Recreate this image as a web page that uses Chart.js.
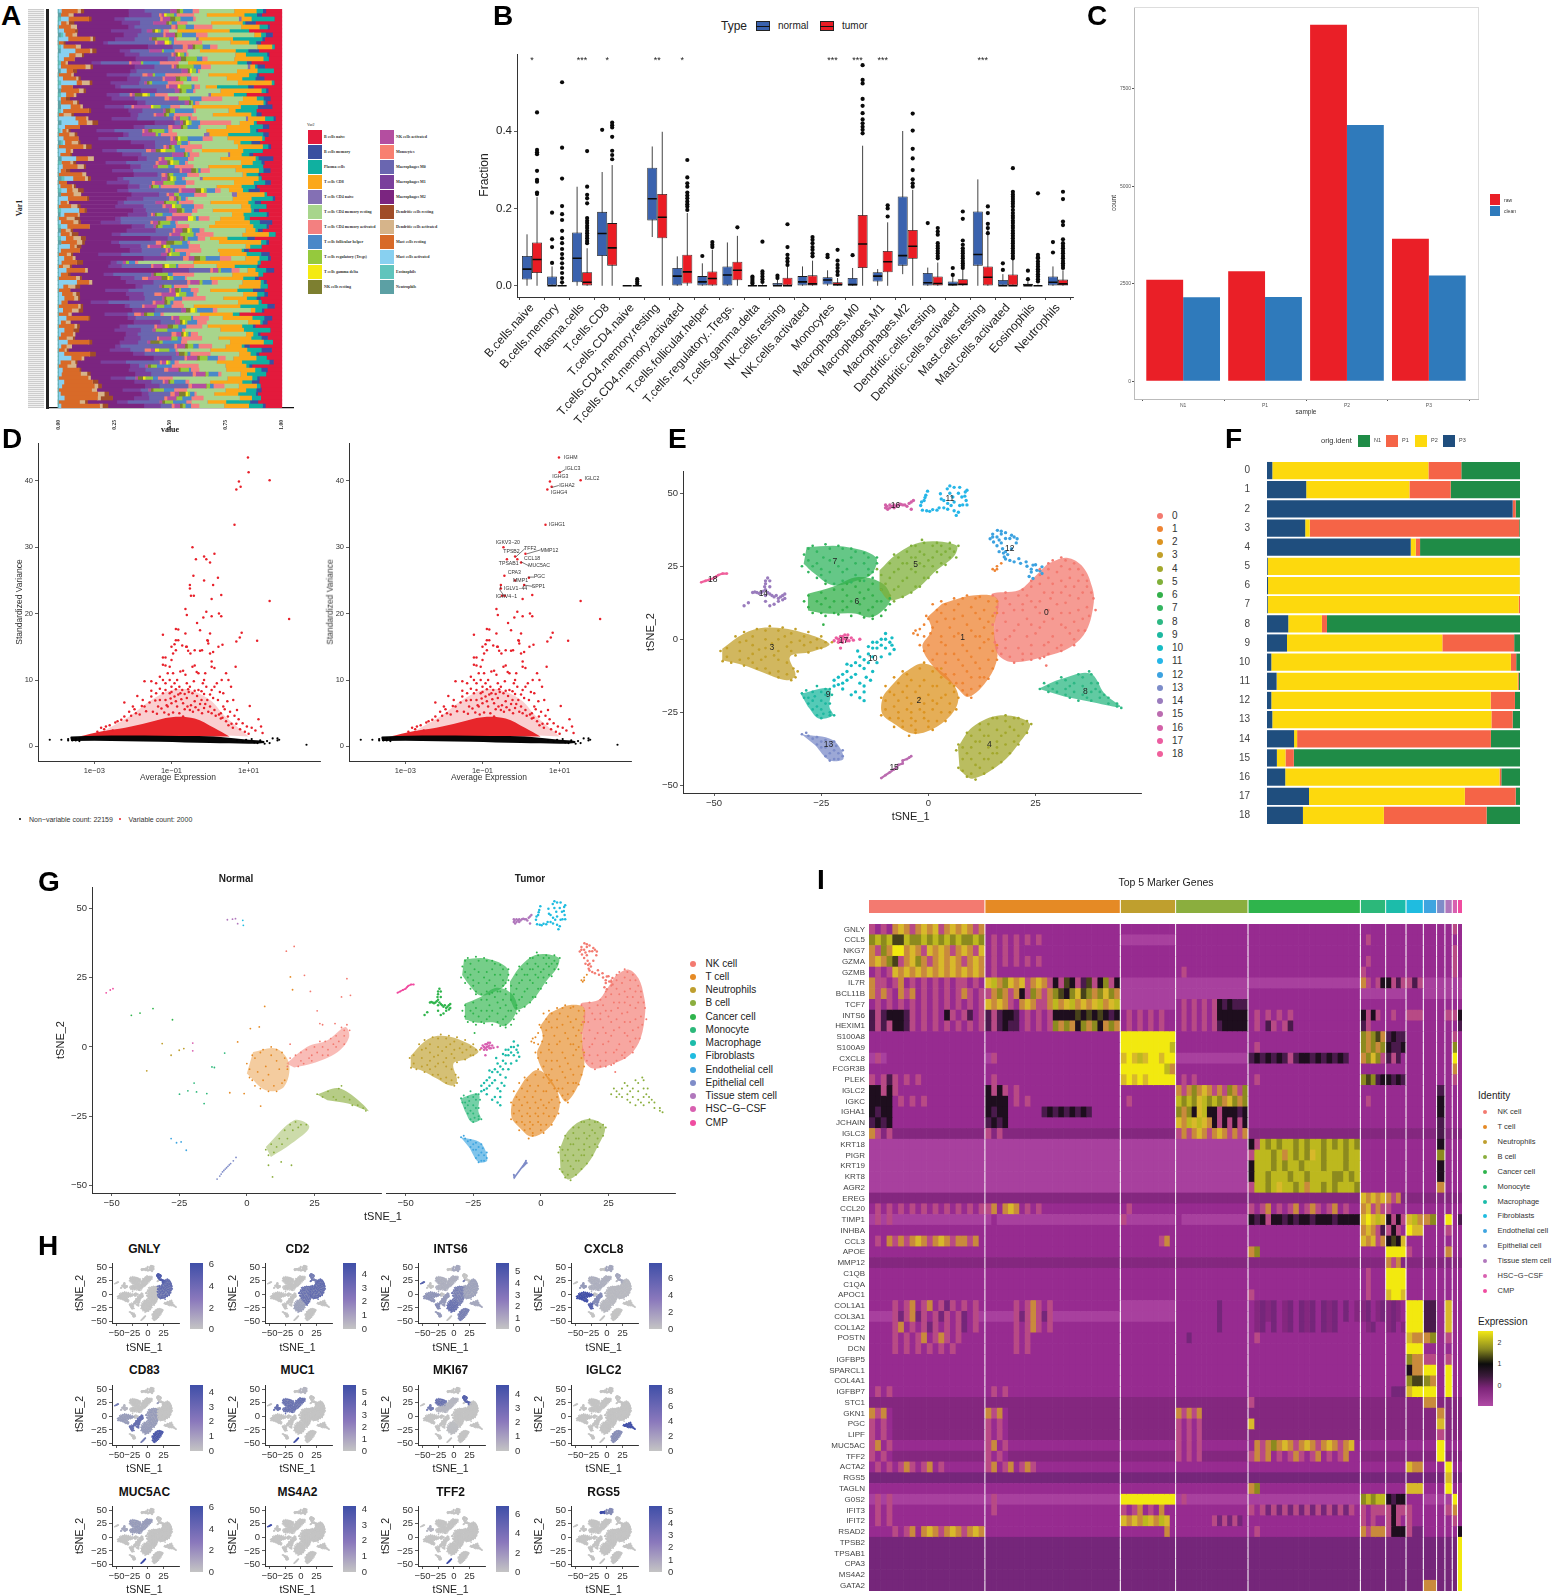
<!DOCTYPE html>
<html>
<head>
<meta charset="utf-8">
<title>Multi-panel figure</title>
<script src="https://cdn.jsdelivr.net/npm/chart.js@4"></script>
<style>
html,body{margin:0;padding:0;background:#fff}
#page{position:relative;width:1552px;height:1595px;overflow:hidden;background:#fff}
#page canvas{position:absolute}
.t{position:absolute;white-space:nowrap;line-height:1}
</style>
</head>
<body>
<div id="page"></div>
<script>
// ---------- Panel A: stacked fractions per sample (percent, read row by row) ----------
const aNames = ['B cells naive','B cells memory','Plasma cells','T cells CD8','T cells CD4 naive','T cells CD4 memory resting','T cells CD4 memory activated','T cells follicular helper','T cells regulatory (Tregs)','T cells gamma delta','NK cells resting','NK cells activated','Monocytes','Macrophages M0','Macrophages M1','Macrophages M2','Dendritic cells resting','Dendritic cells activated','Mast cells resting','Mast cells activated','Eosinophils','Neutrophils'];
const aColors = ['#e31a3c','#3a4fa0','#10b0a0','#fba81a','#8470b4','#a8d58c','#f38080','#4a88c8','#95c93d','#f4ea12','#7d7f30','#b44ea0','#f88070','#6a66b0','#7a409c','#7b2580','#a04c28','#d6b48a','#d86a28','#88d0f0','#60c4bc','#5ca0a4'];
const aBNaive = [5,8,3,10,6,12,4,7,9,3,11,6,5,13,7,4,9,8,3,10,6,14,5,7,4,11,8,3,9,6,12,5,7,10,4,8,15,3,6,9,5,11,7,4,13,8,6,3,10,5,9,7,12,4,6,8,3,11,5,9,14,6,4,7,10,3,8,12,5,6,9,4,11,7,3,8,13,5,6,10,4,9,7,3,12,5,8,6,4,10,7,5,9,12,6,8,11,7,9,6];
const aBMemory = [1,2,0,4,1,0,3,1,2,0,5,1,0,2,3,0,1,4,0,2,1,0,3,1,6,0,2,1,0,3,1,2,0,4,1,0,2,5,1,0,3,1,0,2,1,4,0,1,3,0,2,1,0,5,1,2,0,3,1,0,2,4,1,0,1,3,0,2,1,0,6,1,2,0,3,1,0,4,2,1,0,1,3,0,2,5,1,0,2,1,3,0,1,4,0,2,1,0,3,1];
const aPlasma = [2,5,9,1,4,7,2,12,3,1,6,10,2,4,1,8,3,6,1,11,2,5,3,1,7,9,2,4,1,6,3,13,1,5,2,8,4,1,3,10,2,6,1,4,7,2,1,9,3,5,1,12,2,4,6,1,3,8,2,5,1,7,3,1,10,4,2,6,1,3,8,2,5,1,11,3,2,6,1,4,9,2,5,3,1,7,2,4,13,1,3,6,2,5,1,4,8,3,9,5];
const aCd8 = [7,15,4,12,9,19,3,14,8,6,17,5,11,21,2,10,16,7,13,4,18,9,6,12,20,3,15,8,5,11,22,7,14,3,9,17,6,12,4,16,10,2,19,7,13,5,11,8,18,3,15,6,9,14,20,4,12,7,16,2,10,13,5,21,8,3,11,17,6,9,14,4,12,7,19,2,10,15,5,13,8,3,16,11,6,18,4,9,12,7,14,2,10,17,5,8,11,4,7,9];
const aCd4Naive = [0,0,1,0,0,0,0,1,0,0,0,0,0,0,1,0,0,0,0,0,0,1,0,0,0,0,0,1,0,0,0,2,0,0,0,0,1,0,0,0,0,0,1,0,0,0,2,0,0,0];
const aCd4Rest = [11,5,17,9,14,3,20,8,12,16,6,22,10,4,15,18,7,13,21,2,11,16,9,19,5,14,8,23,3,12,17,10,6,20,13,4,15,9,18,7,11,22,5,14,16,3,10,19,8,12,6,21,4,15,9,17,13,2,11,20,7,14,5,18,10,3,16,12,8,21,6,13,9,19,4,15,11,7,17,2,12,20,8,14,5,16,10,3,18,9,13,6,22,11,4,15,8,12,6,9];
const aCd4Act = [2,7,1,4,9,2,5,1,12,3,6,1,2,8,4,1,10,3,6,2,1,5,9,2,4,1,7,3,11,1,2,6,4,1,8,3,5,2,1,9,4,6,1,3,13,2,5,1,7,3,2,10,4,1,6,2,8,3,1,5,11,2,4,1,7,3,9,1,2,6,4,1,12,3,5,2,1,8,4,6,1,3,10,2,5,1,7,3,2,9,4,1,6,2,3,5,1,4,2,3];
const aTfh = [3,1,5,2,4,1,6,2,1,3,5,1,2,7,3,1,4,2,6,1,3,2,5,1,4,8,2,1,3,5,2,1,6,3,2,4,1,5,2,3,1,7,2,4,1,3,6,2,1,4,3,5,1,2,6,3,1,4,2,8,1,3,5,2,1,4,2,6,3,1,5,2,4,1,3,7,2,1,4,3,5,1,2,6,2,3,1,4,2,5,1,3,2,6,1,4,2,3,5,2];
const aTreg = [1,3,2,1,4,1,2,5,1,3,1,2,4,1,6,2,1,3,1,4,2,1,5,1,3,2,1,4,1,2,6,1,3,2,1,4,1,3,2,5,1,2,1,4,3,1,2,1,5,2,1,3,1,4,2,1,6,1,3,2,1,4,2,1,3,1,5,2,1,3,1,2,4,1,3,1,2,6,1,2,4,1,3,1,2,5,1,3,1,2,4,1,3,2,1,4,1,2,3,1];
const aGamma = [0,1,0,0,0,1,0,0,2,0,0,1,0,0,0,1,0,0,0,1,0,2,0,0,1,0,0,0,1,0,0,0,1,0,0,2,0,0,1,0,0,0,1,0,0,1,0,0,0,1,0,0,2,0,0,1,0,0,0,1,0,1,0,0,2,0,0,1,0,0,0,1,0,0,0,2,0,0,1,0,0,1,0,0,0,2,0,0,1,0,0,0,1,0,0,0,1,0,0,0];
const aNkRest = [1,0,2,1,0,1,1,2,0,1,0,1,2,0,1,1,0,2,1,0,1,3,0,1,0,2,1,0,1,1,2,0,1,0,1,2,1,0,1,0,2,1,1,0,1,2,0,1,1,0,2,1,0,1,1,2,0,1,3,1,0,1,2,0,1,0,1,3,0,1,2,0,1,1,0,2,1,0,1,2,0,1,0,3,1,0,2,1,0,1,1,0,2,1,0,1,3,0,1,1];
const aNkAct = [2,1,3,5,1,2,4,1,3,2,6,1,2,4,1,3,2,5,1,3,2,1,4,2,7,1,3,2,1,4,2,5,1,3,1,2,6,1,3,2,4,1,2,3,1,5,2,1,4,2,3,1,6,2,1,3,4,1,2,5,1,3,2,1,4,2,1,7,3,1,2,4,1,3,5,2,1,3,2,4,1,2,6,1,3,2,1,4,2,1,5,3,1,2,4,1,2,3,1,2];
const aMono = [0,1,1,0,2,0,1,0,1,2,0,1,0,1,1,0,2,1,0,1,0,1,2,0,1,0,1,1,0,2,1,0,1,0,1,2,0,1,1,0,1,2,0,1,0,1,1,2,0,1,0,1,2,1,0,1,1,0,2,1,1,0,2,0,1,1,0,3,1,0,1,2,0,1,1,0,2,1,0,1,0,2,1,0,1,3,0,1,1,0,2,1,0,1,1,0,2,1,0,1];
const aM0 = [8,3,14,5,18,2,11,6,20,4,9,15,3,12,7,22,5,10,2,16,8,4,13,19,3,9,6,17,2,11,14,5,21,7,3,12,16,4,10,6,20,2,13,8,5,18,3,11,15,6,9,2,17,12,4,7,22,5,14,3,10,19,6,2,13,8,16,4,11,7,21,3,9,15,5,12,2,18,6,10,4,14,8,3,20,7,11,5,16,2,9,13,4,6,8,3,10,5,12,4];
const aM1 = [5,9,4,7,3,11,6,8,2,10,5,7,12,4,8,3,9,6,11,2,7,5,10,4,8,6,3,12,7,5,9,2,8,11,4,6,10,3,7,5,9,12,2,8,6,4,11,7,3,9,5,10,2,8,6,12,4,7,3,9,5,11,8,2,6,10,4,7,9,3,12,5,8,6,2,10,7,4,11,3,9,5,8,6,2,10,4,7,12,3,8,5,6,9,4,7,3,5,4,6];
const aM2 = [14,22,9,18,25,12,20,8,16,27,11,19,23,10,17,26,13,21,7,15,24,12,18,28,9,16,22,11,20,25,13,17,8,23,19,12,26,15,10,21,18,24,9,14,27,12,20,16,23,11,18,25,13,8,19,22,15,26,10,17,21,12,24,9,16,28,14,20,11,23,18,13,25,8,17,22,10,19,26,15,12,21,24,9,16,20,13,27,11,18,23,14,8,19,12,10,15,7,11,13];
const aDcRest = [1,0,1,2,0,1,0,1,1,0,2,1,0,0,1,2,0,1,1,0,1,0,2,1,0,1,1,0,2,0,1,1,0,1,2,0,1,0,1,1,2,0,1,0,1,2,0,1,0,1,1,0,2,1,0,1,3,2,1,2,0,1,0,2,1,0,1,1,0,2,0,1,1,0,1,2,0,1,0,1,2,0,1,1,0,1,2,0,1,0,1,1,0,3,1,0,2,4,1,2];
const aDcAct = [1,2,0,1,3,0,2,1,0,2,1,3,0,1,2,0,1,1,3,0,2,1,0,2,1,0,3,1,2,0,1,2,0,3,1,1,0,2,1,3,0,2,1,0,1,2,3,0,1,2,0,1,3,2,0,2,1,3,2,1,0,2,1,0,3,1,0,2,1,3,0,1,2,0,1,3,1,0,2,1,0,1,3,0,2,1,0,1,2,3,0,2,1,0,1,2,3,1,2,1];
const aMastRest = [5,3,8,2,6,4,3,9,2,5,7,3,4,2,10,3,5,6,2,4,8,3,2,6,4,11,2,5,3,7,2,4,6,3,9,2,5,4,3,7,2,12,4,3,6,2,5,8,3,4,2,7,3,5,10,2,4,3,6,2,8,4,3,5,2,7,3,9,4,2,6,3,5,2,8,4,3,11,2,6,3,5,4,7,2,3,9,4,5,3,8,6,12,15,9,13,17,11,8,14];
const aMastAct = [1,0,3,1,0,2,1,4,0,1,7,5,2,0,1,3,0,2,6,1,0,2,1,0,4,1,0,8,6,3,1,0,2,1,0,3,1,5,0,2,1,0,3,0,1,2,0,4,1,0,7,2,0,1,3,0,1,2,0,5,1,0,2,1,0,3,1,0,6,2,0,1,3,1,0,2,0,4,1,0,2,1,0,3,1,0,2,5,1,0,2,1,0,3,1,0,1,2,0,1];
const aEos = [0,0,1,0,0,0,1,0,0,1,0,0,0,1,0,0,0,0,1,0,0,1,0,0,0,1,0,0,0,0,1,0,0,1,0,0,0,0,1,0,0,0,1,0,0,1,0,0,0,0,1,0,0,0,1,0,0,1,0,0];
const aNeut = [0,1,0,0,0,0,1,0,0,0,1,0,0,0,0,1,0,0,0,0,1,0,0,1,1,0,0,0,1,0,0,0,0,1,0,0,0,1,0,0,0,0,1,0,0,0,1,0,0,0,0,1,0,0,0,1,0,0,1,0];
const aSeries = [aBNaive,aBMemory,aPlasma,aCd8,aCd4Naive,aCd4Rest,aCd4Act,aTfh,aTreg,aGamma,aNkRest,aNkAct,aMono,aM0,aM1,aM2,aDcRest,aDcAct,aMastRest,aMastAct,aEos,aNeut];
const aRows = 100;
const aTicks = ['0.00','0.25','0.50','0.75','1.00'];

// ---------- Panel B: box statistics [low, q1, median, q3, high] ----------
const bCategories = ['B.cells.naive','B.cells.memory','Plasma.cells','T.cells.CD8','T.cells.CD4.naive','T.cells.CD4.memory.resting','T.cells.CD4.memory.activated','T.cells.follicular.helper','T.cells.regulatory..Tregs.','T.cells.gamma.delta','NK.cells.resting','NK.cells.activated','Monocytes','Macrophages.M0','Macrophages.M1','Macrophages.M2','Dendritic.cells.resting','Dendritic.cells.activated','Mast.cells.resting','Mast.cells.activated','Eosinophils','Neutrophils'];
const bNormal = [[0,.016,.043,.077,.133],[0,0,0,.024,.05],[0,.009,.071,.138,.256],[0,.077,.135,.191,.294],[0,0,0,.001,.002],[.126,.169,.225,.305,.36],[0,.001,.025,.046,.076],[0,0,.01,.025,.058],[0,0,.028,.05,.112],[0,0,0,.001,.002],[0,0,0,.007,.015],[0,0,.01,.025,.05],[0,.003,.015,.022,.04],[0,0,.003,.02,.046],[0,.011,.025,.035,.043],[.03,.052,.078,.231,.4],[0,0,.008,.033,.047],[0,0,.003,.011,.025],[0,.052,.081,.192,.275],[0,0,0,.015,.03],[0,0,0,.005,.012],[0,0,.009,.024,.05]];
const bTumor = [[0,.033,.068,.112,.229],[0,0,0,.002,.004],[0,0,.009,.035,.097],[0,.052,.098,.162,.312],[0,0,0,.001,.002],[0,.123,.177,.237,.398],[0,.006,.036,.08,.188],[0,0,.019,.037,.093],[0,.014,.04,.062,.129],[0,0,0,.002,.004],[0,0,0,.021,.05],[0,0,.005,.027,.065],[0,0,.003,.009,.02],[0,.046,.108,.183,.362],[0,.035,.062,.09,.164],[0,.07,.102,.144,.248],[0,0,.006,.024,.06],[0,0,.004,.017,.044],[0,0,.022,.05,.145],[0,0,0,.029,.07],[0,0,0,.001,.003],[0,0,.005,.016,.04]];
const bOutNormal = [[],[.189,.12,.1,.059],[],[.403],[],[],[],[.077],[],[.024,.02,.015,.01,.006],[.026,.02],[],[.08,.074],[.079],[],[],[.162],[.046,.028],[],[.058,.041],[.039,.017],[.113,.086]];
const bOutTumor = [[.448,.351,.345,.34,.297,.274,.269,.241,.237],[.526,.357,.277,.206,.185,.17,.142,.123,.11,.095,.082,.071,.058,.046,.033,.02,.009],[.348,.256,.235,.226,.213,.175,.168,.162,.155,.149,.142,.136,.129,.123,.116,.11],[.422,.415,.409,.385,.349,.338,.327],[.017,.011,.005],[],[.325,.28,.265,.256,.241,.233,.226,.218,.211,.205,.196],[.113,.106,.1],[.151],[.114,.037,.031,.024,.017,.01],[.159,.1,.08,.071,.063,.054],[.126,.119,.11,.1,.093,.084,.076],[.093,.065,.054,.046,.037,.028],[.57,.532,.523,.483,.465,.446,.43,.42,.411,.403,.394],[.208,.2,.179],[.445,.401,.354,.329,.299,.275,.265,.256],[.149,.14,.132,.11,.103,.097,.09,.084,.077,.071],[.192,.173,.117,.106,.097,.09,.084,.077,.071,.064,.058,.052,.046],[.205,.188,.16,.149,.136],[.304,.243,.236,.23,.224,.218,.212,.205,.196,.188,.181,.175,.168,.162,.155,.149,.142,.136,.129,.123,.116,.11,.103,.097,.09,.084,.077,.071],[.239,.08,.074,.071,.063,.056,.05,.043,.037,.03,.024,.017,.011],[.243,.224,.166,.157,.12,.11,.103,.097,.09,.084,.077,.071,.064,.058,.052,.046]];
const bStars = ['*','','***','*','','**','*','','','','','','***','***','***','','','','***','','',''];

// ---------- Panel C ----------
const cSamples = ['N1','P1','P2','P3'];
const cTicks = [0,2500,5000,7500];
const cRaw = [2600,2820,9140,3650];
const cClean = [2155,2160,6570,2710];

// ---------- Panel D: variable genes [mean expression, standardized variance, ...] ----------
const dRedPts = [9.6,43.5,10,41.3,35,40.1,5.6,39.9,6.2,39.1,4.8,38.7,4.3,33.4,.35,30,1.3,29,.7,28.6,.43,28.2,.8,28.2,1,27.7,.37,25.7,1.6,25.4,.7,25,.3,24.3,1.2,24.3,.3,23.8,.32,22.7,.38,22.7,1.95,22.8,1.1,22.2,35,21.9,112,19.2,.8,20.3,1.7,20,1.95,19.6,.23,20.7,.25,19.8,.67,19.4,1.1,19.6,.46,18.6,6.6,17.1,5.9,16.4,4.8,15.8,16.6,15.9,.06,16.8,.13,17.7,.15,17.6,.23,17,.55,17.5,1,17,.88,15.9,.25,15,2.1,15.3,1.65,15,4.6,12,
.06,13.4,.07,13.4,.1,13,.11,14,.13,14.5,.1,15,.13,16,.15,16,.12,15.4,.19,15.2,.24,15,.27,14.4,.31,14,.4,14.5,.55,14.4,.62,14.5,.9,15.5,.85,16,1,14,1.2,14.2,1.1,12.8,1.1,12,1.3,11.8,.4,12.2,.35,12,.5,11,.06,12.3,.07,12.2,.09,12,.11,11,.17,11.3,.2,11.4,.23,10.8,.45,11.2,.7,10,.75,11,2,10,2.6,11,3,10,
.02,9.8,.03,9.8,.04,9.5,.05,10.5,.06,10,.07,9.5,.08,11,.09,10,.1,9,.12,9.5,.14,10,.16,9,.19,8.5,.25,9.5,.3,9,.38,9.8,.5,8.5,.65,9.5,.8,9,1.1,8.5,1.5,9.5,2.2,8,3.5,9,
.006,6.6,.01,6,.013,7.6,.018,7,.02,6,.03,7.5,.04,8,.045,6,.05,7,.06,8,.07,7,.08,6,.09,8,.1,6.5,.12,7.5,.14,6,.17,8,.2,6.5,.25,7.3,.3,5.5,.35,8,.4,6.8,.5,5.5,.6,7,.7,5.8,.85,7,1,6,1.3,5.5,1.6,7,1.9,5,2.4,5.6,3.3,5.2,5,5.5,10.7,6.1,
.0025,3.2,.004,3.8,.006,4.5,.009,4.6,.012,5,.2,4.5,1.9,4.2,2.6,3.8,3.6,3.4,4.8,3.4,5.5,4.1,7,3.5,12,2.8,18,4.1,21,3,23,2,10,1.9,.0012,2.2,.0018,2.6,.003,2.4,
.0015,2.8,.002,3,.0035,3.6,.005,4,.007,3.9,.008,5.2,.011,5.6,.015,4.8,.017,6.1,.022,5.3,.027,6.6,.033,5.2,.038,6.9,.042,4.9,.055,5.7,.065,5.1,.075,6.2,.085,4.8,.095,7.2,.11,5.1,.13,6.8,.16,5,.18,7.1,.22,5.6,.26,6,.28,8.2,.32,6.2,.36,5.2,.42,5.9,.46,7.6,.55,6.4,.62,5,.75,6.4,.9,5.2,1.1,5,1.2,7.3,1.4,4.6,1.7,4.8,2.1,4.3,2.2,6,2.9,4.5,3,3.2,3.9,2.8,4.3,4.6,6,2.6,8,2.2,9,3,15,2.4,.03,8.4,.05,8.7,.07,8.5,.1,8.2,.13,8.6,.15,7.8,.22,7.9,.27,8.6,.4,8.4,.6,8.3,.7,7.9,1,7.8,1.3,9,1.8,8.2,2.8,6.8,4,7];
const dRedCore = [4e-4,1.5,1.6e-3,2.3,6.3e-3,2.8,.025,3.6,.1,4.4,.4,4.2,1.26,2.8,3.2,1.5];
const dRedHaze = [.002,2.5,.008,4.5,.03,7,.1,8.5,.3,8.5,1,7,2.5,4.5,6.3,2.5,10,1.5];
const dBlackBand = [2.5e-4,.8,2.5e-4,1.5,.5,1.55,3,1.3,10,1,25,.8,25,.5,10,.4,1,.5,.05,.7,.001,.85];
const dBlackPts = [7e-5,1,1.4e-4,1,2.1e-4,1.1,2.1e-4,.9,2.7e-4,1.2,2.7e-4,.9,3.3e-4,1.2,3.3e-4,.9,4.1e-4,1.2,4.1e-4,.8,316,.25,56,1.2,56,.9,62,1,30,.8,35,.5,42,1.2,8.6,1,14,.6,20,.9,26,.4,17,.5,5,.9,7,.7,12,1.1];
const dGenes = ['IGHM','IGLC3','IGHG3','IGLC2','IGHA2','IGHG4','IGHG1','IGKV3−20','TFF2','MMP12','TPSB2','CCL18','TPSAB1','MUC5AC','CPA3','PGC','MMP1','SPP1','IGLV1−44','IGKV4−1'];
const dGeneZx = [1382,1385,1353,1432,1370,1350,1345,1215,1284,1324,1233,1284,1222,1294,1244,1308,1257,1303,1235,1215];
const dGeneZy = [83,118,142,148,167,190,285,338,358,362,366,386,402,409,428,441,452,470,478,501];
const dConnectors = [10.5,41.3,14,41.7,NaN,NaN,6.2,39,9.5,39.3,NaN,NaN,.72,28.5,1.26,29.8,NaN,NaN,1.4,29,3.2,29.6,NaN,NaN,1,27.8,1.6,27.2,NaN,NaN,1.5,25.5,2.2,25.5,NaN,NaN,1.2,24.3,2,24.1,NaN,NaN,.3,24.2,.28,23.6,.37,22.6];

// ---------- Panel E: t-SNE clusters, outline and dots in tSNE units ----------
const c0Poly = [27.8,25.9,32.3,27.9,36.1,24.7,38.2,17.9,38.6,12.8,36.9,3.1,33.2,-2.6,26.9,-6,19.4,-7.8,16.1,-4.9,15.3,3.1,16.1,13.3,14.8,15.6,21.1,16.8,24.4,20.8];
const c1Poly = [3.2,12.2,10.3,15,16.1,13.9,15.3,3.1,16.1,-6,14,-13.5,9.4,-19.7,6.5,-16.3,1.9,-10.6,-1.4,-2.6,.7,3.1,-.2,7.6];
const c2Poly = [-6,-11.7,-1.4,-8.3,3.6,-11.7,6.9,-18.6,6.1,-24.3,1.9,-30,-3.5,-32.3,-8.1,-28.8,-10.8,-25.4,-10.6,-19.7,-8.9,-16.3];
const c3Poly = [-48.1,-3.2,-43.1,1.9,-38.1,4,-31.4,3.1,-23.1,-1.5,-27.3,-4.3,-32.3,-6,-31,-12.3,-33.1,-14,-38.9,-11.2,-43.1,-8.9,-48.1,-7.2];
const c4Poly = [6.9,-36.8,10.3,-30,16.9,-26,23.6,-28.8,21.1,-35.7,16.9,-42.5,10.3,-47.7,7.3,-44.8];
const c5Poly = [-11.4,23.6,-7.3,29.3,-1.4,33.3,6.5,32.2,6.1,28.7,1.9,23.6,-3.1,16.8,-8.9,13.3,-11.4,17];
const c6Poly = [-28.1,15.6,-22.3,18,-16.4,21.3,-10.6,19,-8.9,13.3,-13.1,7.6,-17.3,8.8,-23.9,8.8,-28.1,9.9];
const c7Poly = [-28.4,31.6,-19.8,31.8,-12.3,28.2,-13.1,22.5,-16.4,20.2,-22.3,18.5,-26.6,22.5,-29.1,25.9];
const c8Poly = [25.7,-16.9,31.1,-13.5,37.8,-11.7,41.1,-18.6,44.8,-23.1,37.8,-21.4,31.9,-19.7];
const c9Poly = [-29.8,-18.6,-23.1,-16.9,-23.1,-23.1,-22.3,-26,-25.6,-27.1,-28.1,-23.1];
const c10Poly = [-23,-14,-17,-7,-11.4,.2,-8.1,.2,-8.9,-3.8,-13.9,-11.7,-19,-17,-23,-17];
const c11Poly = [2.3,48.7,5.3,52.1,8.6,52.1,9,47,6.9,42.4,6,44.5,2.5,45.5];
const c13Poly = [-29.6,-32.5,-22.3,-34.5,-19.8,-40.8,-23.1,-41.4,-26.4,-36.3];
const c0Pts = [28,26,32,27,35,24,30,23,26,22,33,21,37,20,29,19,24,18,34,18,38,16,31,16,27,16,21,15,18,14,35,14,24,13,30,12,37,11,16,11,20,10,33,9,26,9,36,7,29,7,23,7,18,6,32,4,35,3,26,4,20,3,16,3,29,1,23,1,34,0,18,0,27,-2,31,-2,21,-3,16,-3,24,-5,19,-6,28,-5,22,-7,27.5,-9,25,11,28.5,14,32,12.5,22,12,17.5,9,
29,27,31,28,34,26,36,22,37,18,38.5,14,37.5,8,36.5,3,34,-2,31,-4,27,-6,24,-7,20,-8,17,-5,15.5,-1,15,5,15.5,9,15,15,18,16,22,17,24,20,26,24,28,24,31,25,33,24,28,21,31,20,35,20,26,19,32,18,36,16,29,16,23,15,26,13,33,15,19,12,22,10,28,10,31,9,35,10,24,5,27,6,34,6,21,5,19,1,25,2,31,5,33,2,28,-1,24,-2,18,-3,30,-3,22,-5,26,-6.5,39,10];
const c1Pts = [4,12,8,14,11,14,14,13,2,10,6,10,10,11,13,10,0,7,4,7,8,8,12,7,15,8,1,4,5,4,9,5,13,4,-1,1,3,1,7,2,11,1,14,0,0,-2,4,-2,8,-2,12,-3,15,-4,2,-5,6,-5,10,-6,14,-7,4,-8,8,-9,12,-10,6,-12,10,-13,13,-13,8,-15,10,-17,9,-19,15,24,16,25,17,26,16,24,15.5,23.5,-3,3,-2,3.5,-3.5,2,-2.5,1.5,
3,13,6,14,9,15,12,14.5,16,13,1,12,-.5,8,-1,5,.5,2,-2,-2,-1,-4,1,-7,2,-10,4,-12,6.5,-15,8,-17.5,10,-20,12,-16,14,-13.5,15,-10,16,-7,16,-2,15,2,16,9,3,9,7,12,11,9,14,6,2,6,6,7,10,3,12,1,3,-1,6,1,9,-4,13,-1,4,-5,7,-7,11,-8,9,-11,12,-13];
const c2Pts = [-5,-12,-2,-10,1,-11,3,-13,-7,-15,-4,-14,-1,-14,2,-16,5,-15,-9,-18,-6,-18,-3,-18,0,-19,4,-19,6,-18,-10,-21,-7,-21,-4,-22,-1,-22,2,-22,5,-22,-10,-24,-7,-25,-4,-25,-1,-25,3,-25,5,-25,-9,-27,-6,-28,-3,-28,0,-28,2,-28,-6,-30,-3,-31,0,-30,-3,-32,
-6,-11,-1,-8,3,-10,6,-16,7,-20,6.5,-24,4,-28,1,-31,-4.5,-33,-8,-30,-11,-26,-11,-20,-10,-16,-8,-13,-5,-16,-2,-16,1,-16,-8,-19,-5,-20,-2,-20,1,-21,3,-20,-8,-23,-5,-24,-2,-24,1,-24,-7,-27,-4,-27,-1,-27,-4,-29.5];
const c3Pts = [-47,-3,-47,-6,-44,-1,-44,-4,-44,-7,-41,1,-41,-2,-41,-5,-41,-8,-38,3,-38,0,-38,-3,-38,-6,-38,-10,-35,3,-35,0,-35,-4,-35,-7,-35,-11,-32,2,-32,-1,-32,-4,-33,-8,-33,-12,-31,-13,-29,1,-29,-2,-26,0,-26,-3,-24,-1,-31.5,-10,
-48.5,-4,-48,-7.5,-45,1,-43,2.5,-40,3.5,-37,4.5,-34,4,-31,3.5,-28,2.5,-25,1,-22.5,-1,-25,-3,-28,-4.5,-31,-5.5,-30.5,-11,-32,-14,-35,-13,-37,-11.5,-40,-10,-43,-9,-46,-8,-42.5,-.5,-39.5,-3.5,-39,-7,-36.5,-1.5,-36,-5.5,-33.5,1,-30,-.5,-27.5,-1,-33,-2.5,-42,-6.5];
const c4Pts = [8,-37,8,-41,8,-45,10,-33,10,-37,10,-41,10,-46,12,-31,12,-35,12,-39,12,-44,14,-29,14,-33,14,-37,14,-41,16,-27,16,-31,16,-35,16,-39,18,-28,18,-32,18,-36,20,-27,20,-31,20,-35,22,-29,23,-28,
7,-36,6.5,-38,7,-44,9,-47,11,-48,13,-46,15,-44,17,-42,19,-39,21,-36,23,-32,24,-29,21,-27,18,-26,15,-27,12,-29,9,-32,9,-39,11,-43,13,-41,15,-39,13,-33,17,-33,19,-30,21,-33,11,-35,16,-37];
const c5Pts = [-11,22,-11,17,-9,26,-9,21,-9,15,-7,28,-7,24,-7,18,-5,30,-5,26,-5,21,-3,32,-3,28,-3,23,-3,18,-1,33,-1,29,-1,25,-1,21,1,32,1,28,1,25,3,32,3,29,3,26,5,31,5,28,6,30,
-12,24,-8,29,-4,32,-1.5,34,2,33,5,33,7,32,6.5,28,4,25.5,2,23,0,21,-2,18,-4,16,-6,14.5,-8,13,-10,19,-8,23,-6,20,-4,24,-2,26,0,27,-4,28,2,30,-6,26,-8,17,-2,30,4,30];
const c6Pts = [-28,15,-28,11,-25,16,-25,12,-25,9,-22,17,-22,13,-22,9,-19,19,-19,15,-19,11,-16,20,-16,16,-16,12,-16,9,-13,19,-13,15,-13,11,-13,8,-11,17,-11,13,-9,14,-24,19,-24.5,5,-11,8,-14,22,
-29,13,-27,9,-24,8,-21,8.5,-18,8,-15,7.5,-13,7,-10,10,-9,12,-20,17,-17,18,-14,17,-24,14,-20,13,-18,13,-15,14,-12,13,-20,10,-14,10,-26,13,-23,11];
const c7Pts = [-28,31,-28,27,-28,23,-26,30,-26,26,-25,22,-23,31,-23,27,-23,23,-22,19,-20,31,-20,27,-20,23,-17,30,-17,26,-17,22,-14,28,-14,24,-12,28,-13,23,
-29,29,-29.5,25,-27,32,-24,32.5,-21,32,-18,31,-15,29.5,-12,26,-13,21,-15,20,-18,19.5,-20,20,-24,20,-26,21,-27,25,-24.5,28,-21,25,-18,28,-15,26,-19,24,-25,24];
const c8Pts = [26,-17,28,-16,28,-18,30,-15,30,-18,32,-14,32,-17,32,-19,34,-15,34,-18,36,-13,36,-16,36,-19,38,-12,38,-15,38,-18,38,-21,40,-18,40,-20,42,-20,42,-22,44,-23,27,-15,31,-13,35,-12,37.5,-11,39.5,-15,33,-20,35,-21,37,-20,41,-19,44,-22,45,-23.5,33,-16,29,-17,39,-17];
const c9Pts = [-29.5,-18.5,-29,-20,-28,-22,-27,-18,-27,-21,-27,-24,-26,-26,-25,-18,-25,-21,-25,-24,-25,-27,-24,-19,-24,-22,-23,-25,-23,-26,-22,-26,-24,-17,-28.5,-17.5,-26,-16,-23,-17,-22.5,-19,-23,-22,-26,-23,-28,-20,-24.5,-25.5,-26.5,-19.5];
const c10Pts = [-22,-14,-21,-13,-20,-15,-20,-12,-19,-14,-19,-11,-18,-9,-18,-13,-17,-8,-17,-12,-16,-9,-16,-6,-15,-10,-15,-7,-14,-5,-14,-8,-13,-11,-13,-3,-13,-6,-12,-3,-12,-1,-11,-2,-11,0,-10,-3,-10,0,-9,-1,-8.5,-2,-8.5,.5,-20,-17,-18,-19,-17,-18,-16,-20,-15,-21,-15,-18,-15,-16,-22,-16,-13.5,-14,-14.5,-13,-16,-15,-21,-15.5,-19,-8.5,-16.5,-4,-13,-1,-10,2,-8,-3.5,-9,-5,-12,-8,-11,-6,-14,-2.5];
const c11Pts = [-.2,50.7,-.6,49.3,-1,47.5,-1.8,45.8,-1.4,44.2,1,44.4,3.6,45,5.3,45.8,6,44,2.8,49.8,4.4,51.5,7.3,52,8.6,50.4,8.8,47.5,7.3,45.8,6.5,42.4,3.6,47.5,5.7,48.7,7.8,48.7,3,48,5,50,6,52,7,50,8,46,6,47,7,43.5,2,44.2,.3,43.8,4.5,46.5,8.5,49,-.4,44,-1.6,47,-.8,48.5,2.5,45,4.5,44.5,5,52.5,9,51,9,46];
const c12Pts = [14.4,34.4,16.1,37.3,19.4,35.6,20.7,34.4,15.2,33.3,17.3,31,19.4,31,17.7,28.2,21.1,27.6,22.8,26.5,24.4,25.4,26.5,24.8,25.3,23.6,24.4,20.8,15,35,17,36,18,36.5,20,35,16,32,18,30,18.5,29,19,27,20,26.5,23,25,24,24,25,25.5,18,34.5,16.5,34,15,36,16,35,17,37,19,34.5,20.5,33,17,33,16.5,30,17.5,29.5,18,27.5,21.5,26,24,23,26,23.5,26.5,22.5,23.5,21.5];
const c13Pts = [-29.5,-32.5,-28,-33,-27,-34,-26,-33.5,-25,-35,-25,-37,-24,-34.5,-24,-37,-23,-36,-23,-39,-22,-35,-22,-38,-22,-41,-21,-39,-21,-41,-20,-40,-26,-36,-28.5,-32,-24,-40,-20,-38,-23,-41.5,-21.5,-36.5];
const c14Pts = [-43,11.5,-42,12.5,-41,16,-40,16,-39,16,-38,15,-38,17,-38,19,-37.5,21,-38,13,-37,15.5,-37,18,-36,14.5,-35,14,-34,13.5,-34,15,-33.5,15.5,-36,12,-37,11.5,-40.5,16.2,-39.5,15.7,-38.5,16.5,-37.5,16,-36.5,15,-35.5,15,-34.5,14.5,-38,20,-37,20,-38.2,18,-35,13,-33.5,14];
const c15Pts = [-11,-47.5,-10,-46.5,-9,-45.5,-8,-44.5,-7.5,-44,-7,-43,-6,-42.5,-6,-41.5,-5,-41,-4.5,-40.5,-4,-40];
const c16Pts = [-10,45,-10,46,-9.5,44.5,-9,46,-9,45,-8,46,-8,45,-7,46,-6,46,-5,45.5,-4.5,46.5,-4,44.5,-4,47,-9.7,45.5,-8.5,45.5,-7.5,45.5,-6.5,46.2,-5.5,46,-3.5,47.5];
const c17Pts = [-22,-.5,-21.5,.5,-21,-1,-20.5,1,-20,0,-20,-1,-19.5,1.5,-19,-.5,-19,.5,-18.5,-.5,-18,.5,-17.5,-.3,-16,0,-20.5,-3,-21,0,-20,1,-19.5,.2,-18.8,1.5,-20.5,-.5];
const c18Pts = [-53,19.5,-52,20,-51,20.5,-50,21,-49.5,21.5,-49,22,-48,22.5,-47,22.5];
const clusterColors = ['#f37a70','#ee8433','#dc9420','#c2a02a','#a3a82c','#80b03a','#33b04a','#33b560','#2db884','#1db8a0','#16bcc4','#26b6e8','#3ca2e0','#7c8cc9','#9a7cbd','#bb6cb0','#d361a8','#ec5da0','#f0609c'];
const clusterLabelX = [27.5,8,-2.2,-36.5,14.2,-3,-16.7,-21.8,36.6,-23.4,-13,5,19,-23.3,-38.5,-8,-7.7,-19.8,-50.3];
const clusterLabelY = [9,.7,-21,-3,-36,25.5,13,26.5,-18,-19,-6.5,48,31,-36,15.5,-44,45.7,-.3,20.5];
const clusterPolys = [c0Poly,c1Poly,c2Poly,c3Poly,c4Poly,c5Poly,c6Poly,c7Poly,c8Poly,c9Poly,c10Poly,c11Poly,null,c13Poly,null,null,null,null,null];
const clusterPts = [c0Pts,c1Pts,c2Pts,c3Pts,c4Pts,c5Pts,c6Pts,c7Pts,c8Pts,c9Pts,c10Pts,c11Pts,c12Pts,c13Pts,c14Pts,c15Pts,c16Pts,c17Pts,c18Pts];
const clusterStreaks = [15,18];
const clusterSparse = [10,11,12,14,16,17];

// ---------- Panel F: share per cluster ----------
const fClusters = ['0','1','2','3','4','5','6','7','8','9','10','11','12','13','14','15','16','17','18'];
const fP3 = [2.1,15.5,97.1,15.1,56.8,.3,.4,.3,8.4,7.9,1.7,3.8,1.7,2.1,10.7,3.9,7.2,16.6,14.2];
const fP2 = [61.7,40.8,0,1.8,2,99.6,99.5,99.2,13.3,61.4,94.7,95.3,86.7,86.6,1.2,3.4,84.7,61.6,32];
const fP1 = [13,16.3,1.2,82.8,1.7,0,0,.5,2,28.4,2.1,.4,9.6,8.4,76.6,3.3,.7,20.1,40.6];
const fN1 = [23.2,27.4,1.7,.3,39.5,.1,.1,0,76.3,2.3,1.5,.5,2,2.9,11.5,89.4,7.4,1.7,13.2];

// ---------- Panel G: cell types and the normal-tissue cells ----------
const cellTypes = ['NK cell','T cell','Neutrophils','B cell','Cancer cell','Monocyte','Macrophage','Fibroblasts','Endothelial cell','Epithelial cell','Tissue stem cell','HSC−G−CSF','CMP'];
const cellColors = ['#f37a70','#e58a25','#bf9f2e','#8bae3e','#2fb44c','#2cb87a','#1cbcaa','#1fbce0','#3ea5e0','#7f8cc8','#b077bc','#d860b0','#f04ca0'];
const clusterCellType = [0,1,1,2,3,4,4,4,3,5,6,7,0,8,4,9,10,11,12];
const gTumorC15 = [-10,-46,-9.8,-47,-6,-42,-5.5,-41,-6.5,-43,-5.2,-41.8];
const gNormalNkPoly = [14.6,-6,22.2,0,29.8,2.4,36.4,7.2,37.8,3.6,33.6,-1.8,24.1,-6,17.5,-7.4];
const gNormalTPoly = [2.3,-1.8,10.8,-.6,15.6,-6,13.7,-14.4,7,-15.6,0,-9.6];
const gNormalBPoly = [7,-36,17.5,-26.4,23.1,-28.8,16.5,-34.8,8.9,-39.6];
const gNormalB2Poly = [26,-17.1,34.5,-15,45,-23,37.4,-20.4,29.8,-19.2];
const gNormalPts = [
  [26,13,35,18,38.3,18.6,37,24.6,32.6,8.4,27,8.4,21.3,25.8,17.5,36.2,14.6,34.5,23.5,20,16,-4,18,-3,20,-2,22,-1,24,-3,26,-2,28,0,30,-1,32,1,34,2,36,4,36,6,20,-5,24,-5,28,-3,16,1,37,8,38,6,35,7,33,4,31,3,29,2,27,2,25,0,23,-4,21,-6,19,-7,15,-7,30,-3,33,0,36,1,28,8],
  [-3.4,1.8,4.6,7.2,6.6,14.6,16.1,25.2,16.9,20.6,-1,-16.8,5.1,-21.3,-6.3,-16.5,1.3,6.6,3,-4,5,-2,7,-7,9,-3,11,-5,13,-2,4,-9,6,-12,8,-10,10,-14,12,-8,13,-13,2,-12,1,-8,2,-3,6,-1,9,0,11,-1,14,-4,15,-8,14,-12,11,-16,8,-16,5,-15,1,-11,3,-14,0,-6],
  [-31.3,1.2,-28,-3,-25,-1.2,-23.3,-.6,-37,-8.6],
  [8,-42.6,12.7,-41.4,16.5,-42.6,9.5,-46.8,9,-35,12,-33,14,-30,16,-28,18,-27,20,-28,10,-38,15,-33,26,-17,30,-16,34,-15,36,-18,38,-19,41,-21,44,-23,32,-18,7,-37,8,-39,11,-36,13,-35,17,-30,19,-29,22,-28,28,-18,33,-19,35,-14,39,-21,43,-22],
  [-42.7,11.4,-39.5,12.2,-34.7,13.8,-27.5,9.8],
  [-8.2,-2.2,-12.9,-7.2,-12,-7.4,-19.5,-13,-24.9,-17,-18.6,-16.2,-15.8,-20.4,-14.8,-16.8,-21.8,-15.8],
  [],
  [-1.5,45.6,-1.3,43.8],
  [-28,-33,-26,-34.5,-24.3,-34.2,-22.4,-37.2],
  [-11,-47.6,-10,-46.5,-9,-45,-8,-44,-7,-43,-6,-42,-5,-41,-4,-39.8,-9.5,-45.8,-8.5,-44.5,-7.5,-43.5,-6.5,-42.5],
  [-7.2,45.8,-5.3,46,-3.4,44.4,-4.2,46.2],
  [-20,1.4,-20,-1.4],
  [-52,19.5,-50.5,20.5,-49.5,21]
];

// ---------- Panel H: gene levels per cluster (0..1) and scale maxima ----------
const hGenes = ['GNLY','CD2','INTS6','CXCL8','CD83','MUC1','MKI67','IGLC2','MUC5AC','MS4A2','TFF2','RGS5'];
const hMax = [6.1,4.74,5.7,7.76,4.5,5.6,4.68,8.84,6.1,4.2,6.86,5.38];
const hStep = [2,1,1,2,1,1,1,2,2,1,2,1];
const hLevels = [
  {0:.65,12:.75},
  {0:.65,1:.6,2:.25,12:.5},
  {0:.25,1:.5,2:.6,3:.35,4:.5,5:.15,6:.15,7:.15,8:.2,9:.4,10:.3,11:.2,13:.3,18:.7},
  {0:.08,1:.08,2:.08,3:.95,5:.15,6:.15,7:.15,9:.7,10:.4,11:.2,12:.2,14:.3},
  {1:.3,2:.3,3:.3,4:.8,9:.6,10:.6,14:.1,15:.5,18:.5},
  {5:.6,6:.6,7:.6,11:.1,14:.6,15:.8},
  {2:.05,5:.1,6:.1,7:.6,12:.7,14:.5},
  {4:.4,8:.85},
  {5:.3,6:.3,7:.3,14:.2,15:.9},
  {18:.9},
  {14:.1,15:.9},
  {11:.4,16:.9}
];

// ---------- Panel I: marker gene heatmap, one string per gene, one block per cell type ----------
// a block shorter than its column count repeats its last level
const heatCells = [115,134,54,71,111,24,19,16,12,7,6,4,4];
const heatColumns = [20,24,10,14,20,5,4,3,2,1,1,1,1];
const heatGap = 1.3;
const heatLevels = {0:'#a8409e',1:'#972b90',2:'#84277f',3:'#75267a',4:'#4a1a4c',5:'#1e0e1e',6:'#47421a',7:'#8c8a1e',8:'#bdb81e',9:'#f2e90f',a:'#b84a85',b:'#c98a3c',c:'#d8b92a'};
const heatGenes = ['GNLY','CCL5','NKG7','GZMA','GZMB','IL7R','BCL11B','TCF7','INTS6','HEXIM1','S100A8','S100A9','CXCL8','FCGR3B','PLEK','IGLC2','IGKC','IGHA1','JCHAIN','IGLC3','KRT18','PIGR','KRT19','KRT8','AGR2','EREG','CCL20','TIMP1','INHBA','CCL3','APOE','MMP12','C1QB','C1QA','APOC1','COL1A1','COL3A1','COL1A2','POSTN','DCN','IGFBP5','SPARCL1','COL4A1','IGFBP7','STC1','GKN1','PGC','LIPF','MUC5AC','TFF2','ACTA2','RGS5','TAGLN','G0S2','IFIT3','IFIT2','RSAD2','TPSB2','TPSAB1','CPA3','MS4A2','GATA2'];
const heatRows = [
'a1a1bcbabcbcabcbcbab 1 1 1 1 1 1 1 1 1 1 a 1',
'78786687787878787787 1a1a1a1a1a1 0 1 1 1a1 1 1 1 1 1 1 1',
'ba7b99bcbacbcbabcbac 1a1a1a1 1 1 1 1 1 1 1 1 1 a 1',
'bcb76abc7babcbcbabcb 1a1a1a1a1a1 1 1 1 1a1 1 1 1 1 1 a 1',
'1a1acbcbcbcbcbcbcbcb 1a1 1 1a1 1 a1 1 1 1 1 1 a 1',
'baa1ab1a1a1a1a1aa1a1 c8b7cbcabcba5a65a46a57a5 0 0 0 ba1a5 5a4a a4a 0 0 0 0 0',
'baba1bab1a1a1a1aba1a ab7bab5a7bab7657c67b7c7b 0 0 1 0 0 1 0 0 0 0 0',
'1a1a1a1a1a1a1a1a1a1a cbcba1bcbaab8bc8bcbc8bc8 0 1a1a1a1a5454 1 1 1 1 1 1 1 1 1',
'4a45554a1a1a15a1a41a 4a45541a1a1a555565656545 1a1a1a1a1 1a1a1a1a5555 1a1a1a1a1 5a5a1 1a1 a 1 1 a a 5',
'4a4a554a1a1a1a1a1a1a 4a45441a1a1a7b7b57b75b7b 1a1a1a1a1 1a1a1a1a4555 1a14a1a41 4a1 1 1 1 1 1 1 4',
'1 1 9 1 1 7b76b 4544 1 1 1 1 a 1',
'1 1 9999999998 1 1a1 7b7b7 5445 1 1 1 1 7 1',
'0a01 0a1 c9c8c99c99 0 4545454a45545454541 b7c7a 4a41 1 1 1 1 9 1',
'1 1 999999998b 1 1 1 1 1 1 1 1 b 1',
'a1a4a1a1a1 1a1 c9c9c99999 1a1a1 1a1 76745 5454 1 1 1 1 a 1',
'55a5a1 5a5a1a1 1 bab7bcbaba7ba7 1 1 1 1 1 4 1 1 1',
'55551a1a1a1 55551a1a1 1a1 8787c8787bc7b7 1 1a1 1 1 1 5 1 1 1',
'54551 54551111114545454541 1 7b75c855a55545 1 1 1 1 1 5 1 1 1',
'45451 45451 1 cb8c8cb5a5a5a5 1 1 1 1 1 4 1 1 1',
'ba2a2 a2a2 2 ababcbabcbabab 2 2 2 2 2 4 2 2 2',
'0 0 0 0 5a8787887878878787878 1 1 1 1 5 1 1 1',
'0 0 0 0 a88878b8787c87888788 1 1 1 1 7 1 1 1',
'0 0 0 0 58887878878887888788 1 1 1 1 5 1 1 1',
'0 0 0 0 58878887887888877878 1 1 1 1 5 1 1 1',
'0 0 0 0 a8878c8878b887878887 1 1 1 1 b 1 1 1',
'2 2 2 2 2 cbcbc bab2 2 2 2 2 2 2',
'1a1a1a1a1a1a1a1a1a1a ab1bcb1a1a1 1a1 1 a1ab1a1ab1aba1ab1a1 bcaba a1 1 1 1 1 1 1',
'0a0a0 010 a0 10 545a5545455455545 c9c8c 5a5a c8b b7 1 9 1 4',
'1 1 1 1 1 bcba4 a5a1 9c 1 1 a 1 1',
'1a1bababcbabcbabbab1 1 1111111ab1 1 1 cbcab 565c 1 1 1 1 1 1',
'1 1 1 1 b71 1 9 a1 1 1 b 1 1',
'2 2 2 2 2 2 bab2 2 2 2 2 2 2',
'1 1 1 1 1 1a1 9 1 1 1 1 1 1',
'1 1 1 1 1 1a1 9 1 1 1 1 1 1',
'1 1 1 1 a1 1a1 c99c 1 1 1 1 1 1',
'1111a1ab1ab1a3a1a1a1 11111a1aba1a1 0 1111111131 12323123132313231312 23123 2321 9 4 1 c 1 1',
'0000a3ab3a1a3a1a31a0 00000a3aba3a0 0 1111111131 12323123132313231312 23123 2321 9 4 1 c 1 1',
'1111ab1a1a3a1a1a31a1 11111a1aba1a1 1 1111111131 12313123132313231 1231 2312 9 4 1 c 1 1',
'1111a1a1ab1aba1a1111 11111a1a1 1 1131 1a1 1 1 cb b7 1 a 1 1',
'1111a1a1a1a1a1a11111 11111a1a1 1 1 1 1 1 9 1 1 1 1 1',
'1 1 1 1 1 1 1 7b a 1 a 1 1',
'1 1 1 1 1 1 1 5b 9 1 9 1 1',
'1 1 1 1 1 1 1 76 7b 1 9 1 1',
'1a1a1 1a1a1 1 1 1 1 13 c9 9 1 9 1 1',
'2 2 2 2 a2 2 2 2 b 2 2 2 2',
'bab12 bab12 2 babab2 2 2 2 2 2 b 2 2 2',
'a1a12 a1a12 2 a1a1a2 c2 2 2 2 2 c 2 2 2',
'a1a12 a1a12 2 a1a1a2 2 2 2 2 2 a 2 2 2',
'ab1a1 ab1a1 1 a1a1a1 1bab7bcbabcbabcbabc1 1 1 1 1 9 1 1 1',
'a1a12 a1a12 2 a1a1a2 abab1a1aba1ab1a1ab1 2 2 2 2 9 2 2 2',
'1a1a1aba1ab1a1 ab1ab1aba1 1 1 1 1 1 cb 1 1 9 1 1',
'3 3 3 3 3 3 3 3 3 3 c 3 3',
'1 1 1 1 b71 1 1 c 1 1 9 1 1',
'0a0a0 0a0 9 0a0 0 7878 545 1 0 0 0 9 1',
'1a1a1 1a1 a1ab1a1b11 1 a1a3a3a3a3a3a3a3a3a1 a1a a5a a1 1 1 a b 1',
'1a1a1 1 cbcb8cb8c1 1111111a3a3a31 1 a1a1 a5a1 a1 1 1 1 a 1',
'1111a1ab1bcbabcbabcb 1 11111111b1 1 1a1 bab a5 a3 1 1 1 1 5',
'3 3 3 3 3 3 3 3 3 3 3 3 9',
'3 3 3 3 3 3 3 3 3 3 3 3 9',
'3 3 3 3 3 3 3 3 3 3 3 3 9',
'3 3 3 3 3 3 3 3 3 3 3 3 9',
'3 3 3 3 3 3 3 3 b 3 3 3 9'
];

// ---------- helpers ----------
const FONT = '"Liberation Sans", Arial, sans-serif';
const SERIF = '"Liberation Serif", serif';
const page = document.getElementById('page');

function pts(flat) {
    const out = [];
    for (let i = 0; i < flat.length; i += 2) out.push({ x: flat[i], y: flat[i + 1] });
    return out;
}

// text placed by its vertical centre
function text(str, x, y, size, o = {}) {
    const d = document.createElement('div');
    d.className = 't';
    d.textContent = str;
    const shiftX = o.align === 'center' ? '-50%' : o.align === 'right' ? '-100%' : '0';
    d.style.cssText = `left:${x}px;top:${y}px;font-size:${size}px;font-family:${o.family || FONT};font-weight:${o.weight || 'normal'};color:${o.color || '#222'};transform:translate(${shiftX},-50%) rotate(${o.rotate || 0}deg);z-index:5`;
    page.appendChild(d);
}

function box(x, y, w, h, css) {
    const d = document.createElement('div');
    d.style.cssText = `position:absolute;left:${x}px;top:${y}px;width:${w}px;height:${h}px;z-index:4;${css}`;
    page.appendChild(d);
}

function dot(x, y, r, color) {
    box(x - r, y - r, r * 2, r * 2, `border-radius:50%;background:${color}`);
}

function panelLetter(ch, x, top) {
    const d = document.createElement('div');
    d.className = 't';
    d.textContent = ch;
    d.style.cssText = `left:${x}px;top:${top - 4}px;font:bold 28px ${FONT};color:#000;z-index:6`;
    page.appendChild(d);
}

// fixes the plot rectangle exactly: margins hold the axes
function plot(left, top, width, height, mL, mB, config, mT = 8, mR = 8) {
    left = Math.round(left); top = Math.round(top);
    width = Math.round(width); height = Math.round(height);
    const c = document.createElement('canvas');
    c.width = width + mL + mR;
    c.height = height + mT + mB;
    c.style.left = (left - mL) + 'px';
    c.style.top = (top - mT) + 'px';
    c.style.width = c.width + 'px';
    c.style.height = c.height + 'px';
    page.appendChild(c);
    const o = config.options = config.options || {};
    const sx = o.scales.x, sy = o.scales.y;
    const xOn = sx.display !== false, yOn = sy.display !== false;
    // scale paddings (half a label plus tick padding) would otherwise shrink the plot
    const noPad = s => { s.paddingTop = s.paddingBottom = s.paddingLeft = s.paddingRight = 0; };
    sx.afterFit = s => { if (xOn) s.height = mB; noPad(s); };
    sy.afterFit = s => { if (yOn) s.width = mL; noPad(s); };
    o.responsive = false;
    o.animation = false;
    o.events = [];
    o.layout = { autoPadding: false, padding: { top: mT, right: mR, left: yOn ? 0 : mL, bottom: xOn ? 0 : mB } };
    o.plugins = Object.assign({ legend: { display: false }, tooltip: { enabled: false } }, o.plugins);
    return new Chart(c.getContext('2d'), config);
}

function axis(min, max, size, extra) {
    return Object.assign({
        type: 'linear', min, max, offset: false,
        grid: { drawOnChartArea: false, tickLength: 3, color: '#333', lineWidth: 0.8 },
        border: { color: '#333', width: 1 },
        ticks: { color: '#333', font: { family: FONT, size }, padding: 2, autoSkip: false, maxRotation: 0, minRotation: 0, includeBounds: false }
    }, extra);
}

const minusTick = v => String(v).replace('-', '−');

function scatterSet(flat, color, r, order = 1) {
    return { data: pts(flat), backgroundColor: color, pointBackgroundColor: color, pointRadius: r, pointBorderWidth: 0, order };
}

function shapeSet(flat, color, order = 5) {
    return { data: pts(flat), showLine: true, fill: 'shape', backgroundColor: color, borderWidth: 0, pointRadius: 0, tension: 0.35, order };
}

function lineSet(flat, color, width, order = 1) {
    return { data: pts(flat), showLine: true, borderColor: color, borderWidth: width, pointRadius: 0, spanGaps: false, order };
}

// ---------- Panel A ----------
const aDatasets = aSeries.map((series, i) => ({
    label: aNames[i],
    data: Array.from({ length: aRows }, (_, r) => {
        const sum = aSeries.reduce((t, s) => t + (s[r] || 0), 0);
        return (series[r] || 0) / sum;
    }),
    backgroundColor: aColors[i],
    borderWidth: 0,
    barPercentage: 1,
    categoryPercentage: 1
})).reverse();

plot(47, 9, 246, 399, 2, 26, {
    type: 'bar',
    data: { labels: Array.from({ length: aRows }, (_, i) => 'S' + (i + 1)), datasets: aDatasets },
    options: {
        indexAxis: 'y',
        scales: {
            x: axis(-0.05, 1.05, 5.5, {
                stacked: true,
                afterBuildTicks: s => { s.ticks = aTicks.map(t => ({ value: Number(t) })); },
                grid: { display: false },
                border: { color: '#111', width: 1.2 },
                ticks: { color: '#222', font: { family: SERIF, size: 5.5, weight: 'bold' }, padding: 4, autoSkip: false, maxRotation: 90, minRotation: 90, callback: v => Number(v).toFixed(2) }
            }),
            y: { type: 'category', stacked: true, grid: { display: false }, border: { color: '#222', width: 3 }, ticks: { display: false } }
        }
    }
}, 0, 2);
box(28, 9, 16, 399, 'background:repeating-linear-gradient(#cdcdcd 0 1px,#efefef 1px 2px)');
text('Var1', 20, 208, 8, { family: SERIF, weight: 'bold', rotate: -90, align: 'center' });
text('value', 170, 430, 8, { family: SERIF, weight: 'bold', align: 'center' });
text('Var2', 307, 125, 4, { family: SERIF });
aNames.forEach((name, i) => {
    const col = i < 11 ? 0 : 1, row = i % 11;
    const sx = col ? 380 : 308;
    box(sx, 130 + row * 15, 13.5, 13.7, `background:${aColors[i]}`);
    text(name, sx + 16, 137 + row * 15, 4, { family: SERIF, weight: 'bold', color: '#333' });
});

// ---------- Panel B ----------
const bOffset = 0.2;
function bWhiskers(stats, off) {
    const flat = [];
    stats.forEach((s, i) => flat.push(i + off, s[0], i + off, s[4], NaN, NaN));
    return flat;
}
function bMedians(stats, off) {
    const flat = [];
    stats.forEach((s, i) => flat.push(i + off - 0.18, s[2], i + off + 0.18, s[2], NaN, NaN));
    return flat;
}
function bOutliers(out, off) {
    const flat = [];
    out.forEach((vals, i) => vals.forEach(v => flat.push(i + off, v)));
    return flat;
}
function bBars(stats, color) {
    return {
        type: 'bar',
        data: stats.map((s, i) => ({ x: i, y: [s[1], s[3]] })),
        backgroundColor: color, borderColor: '#1a1a1a', borderWidth: 0.8, borderSkipped: false,
        categoryPercentage: 0.8, barPercentage: 1, order: 3
    };
}
const bStarPlugin = {
    id: 'bStars',
    afterDatasetsDraw(chart) {
        const { ctx, scales } = chart;
        ctx.save();
        ctx.font = `9px ${FONT}`;
        ctx.fillStyle = '#222';
        ctx.textAlign = 'center';
        bStars.forEach((s, i) => {
            if (s) ctx.fillText(s, scales.x.getPixelForValue(i), 17);
        });
        ctx.restore();
    }
};
const bScatter = d => Object.assign({ type: 'scatter' }, d);
// wide left margin so the rotated first labels are not cut at the canvas edge
plot(517, 54, 556, 243, 50, 140, {
    type: 'bar',
    data: {
        datasets: [
            bScatter(scatterSet(bOutliers(bOutNormal, -bOffset), '#0a0a0a', 2.1, 0)),
            bScatter(scatterSet(bOutliers(bOutTumor, bOffset), '#0a0a0a', 2.1, 0)),
            bScatter(lineSet(bMedians(bNormal, -bOffset), '#0a0a0a', 1.6, 1)),
            bScatter(lineSet(bMedians(bTumor, bOffset), '#0a0a0a', 1.6, 1)),
            bBars(bNormal, '#3a62ae'),
            bBars(bTumor, '#ea1c24'),
            bScatter(lineSet(bWhiskers(bNormal, -bOffset), '#444', 1, 4)),
            bScatter(lineSet(bWhiskers(bTumor, bOffset), '#444', 1, 4))
        ]
    },
    options: {
        scales: {
            x: axis(-0.6, 21.6, 12, {
                grid: { drawOnChartArea: false, tickLength: 3, color: '#222', lineWidth: 0.8 },
                ticks: { color: '#222', font: { family: FONT, size: 12 }, padding: 1, autoSkip: false, stepSize: 1, maxRotation: 48, minRotation: 48, includeBounds: false, callback: v => bCategories[v] }
            }),
            y: axis(-0.029, 0.599, 11.5, { ticks: { color: '#222', font: { family: FONT, size: 11.5 }, padding: 2, stepSize: 0.2, includeBounds: false, callback: v => Number(v).toFixed(1) } })
        }
    },
    plugins: [bStarPlugin]
});
text('Fraction', 484, 175, 12, { rotate: -90, align: 'center' });
text('Type', 721, 26, 12);
box(756, 21, 14, 10, 'background:#3a62ae;border:1px solid #222;box-sizing:border-box');
box(756, 25.5, 14, 1.4, 'background:#111');
text('normal', 778, 26, 10);
box(820, 21, 14, 10, 'background:#ea1c24;border:1px solid #222;box-sizing:border-box');
box(820, 25.5, 14, 1.4, 'background:#111');
text('tumor', 842, 26, 10);

// ---------- Panel C ----------
plot(1134, 7, 344, 392, 30, 12, {
    type: 'bar',
    data: {
        labels: cSamples,
        datasets: [
            { label: 'raw', data: cRaw.map((y, x) => ({ x, y })), backgroundColor: '#ea1f27', categoryPercentage: 0.9, barPercentage: 1, borderWidth: 0 },
            { label: 'clean', data: cClean.map((y, x) => ({ x, y })), backgroundColor: '#2f7abb', categoryPercentage: 0.9, barPercentage: 1, borderWidth: 0 }
        ]
    },
    options: {
        scales: {
            x: axis(-0.6, 3.6, 5, { border: { color: '#bbb', width: 1 }, grid: { drawOnChartArea: false, tickLength: 2, color: '#555' }, ticks: { color: '#555', font: { family: FONT, size: 5 }, padding: 2, stepSize: 1, autoSkip: false, maxRotation: 0, includeBounds: false, callback: v => cSamples[v] } }),
            y: axis(-457, 9597, 5, {
                border: { color: '#bbb', width: 1 }, grid: { drawOnChartArea: false, tickLength: 2, color: '#555' },
                afterBuildTicks: s => { s.ticks = cTicks.map(value => ({ value })); },
                ticks: { color: '#555', font: { family: FONT, size: 5 }, padding: 1, autoSkip: false, callback: v => String(v) }
            })
        }
    }
});
box(1134, 7, 344, 1, 'background:#ddd');
box(1477.5, 7, 1, 392, 'background:#ddd');
text('count', 1114, 203, 6.5, { rotate: -90, align: 'center', color: '#333' });
text('sample', 1306, 412, 6.5, { align: 'center', color: '#333' });
box(1490, 194, 10, 11, 'background:#ea1f27');
box(1490, 205.5, 10, 10.5, 'background:#2f7abb');
text('raw', 1504, 200, 5, { color: '#333' });
text('clean', 1504, 211, 5, { color: '#333' });

// ---------- Panel D ----------
const dTickLabels = { '0.001': '1e−03', '0.1': '1e−01', '10': '1e+01' };
function dChart(left, withConnectors) {
    const sets = [
        scatterSet(dRedPts, '#e8202a', 1.25, 1),
        scatterSet(dBlackPts, '#000', 1.1, 1),
        shapeSet(dBlackBand, '#060606', 3),
        shapeSet(dRedCore, '#e8262b', 5),
        shapeSet(dRedHaze, 'rgba(232,38,43,0.22)', 6)
    ];
    if (withConnectors) sets.unshift(lineSet(dConnectors, '#222', 0.6, 0));
    plot(left, 443.3, 282, 318, 24, 22, {
        type: 'scatter',
        data: { datasets: sets },
        options: {
            scales: {
                x: axis(3.47e-5, 708, 7.5, {
                    type: 'logarithmic',
                    afterBuildTicks: s => { s.ticks = [{ value: 0.001 }, { value: 0.1 }, { value: 10 }]; },
                    ticks: { color: '#333', font: { family: FONT, size: 7.5 }, padding: 2, autoSkip: false, maxRotation: 0, callback: v => dTickLabels[String(v)] }
                }),
                y: axis(-2.2, 45.7, 7.5, { ticks: { color: '#333', font: { family: FONT, size: 7.5 }, padding: 2, stepSize: 10, includeBounds: false } })
            }
        }
    });
}
dChart(37.6, false);
dChart(348.6, true);
text('Standardized Variance', 19, 602, 8.5, { rotate: -90, align: 'center', color: '#333' });
text('Standardized Variance', 330, 602, 8.5, { rotate: -90, align: 'center', color: '#333' });
text('Average Expression', 178, 777, 8.5, { align: 'center', color: '#333' });
text('Average Expression', 489, 777, 8.5, { align: 'center', color: '#333' });
dot(20, 819, 1, '#000');
text('Non−variable count: 22159', 29, 819, 7, { color: '#333' });
dot(120, 819, 1, '#e8202a');
text('Variable count: 2000', 128.6, 819, 7, { color: '#333' });
dGenes.forEach((g, i) => text(g, dGeneZx[i] / 2.45, 430 + dGeneZy[i] / 3, 5.2, { color: '#333' }));

// ---------- t-SNE builder shared by E, G and H ----------
const tx = (size) => axis(-57.25, 49.6, size, { ticks: { color: '#333', font: { family: FONT, size }, padding: 2, stepSize: 25, autoSkip: false, maxRotation: 0, includeBounds: false, callback: minusTick } });
const ty = (size) => axis(-52.6, 57.6, size, { ticks: { color: '#333', font: { family: FONT, size }, padding: 2, stepSize: 25, autoSkip: false, includeBounds: false, callback: minusTick } });

function clusterDots(i, flat, color, r) {
    const set = scatterSet(flat, color, clusterSparse.includes(i) ? r * 1.25 : r, 1);
    if (clusterStreaks.includes(i)) {
        set.showLine = true;
        set.borderColor = color;
        set.borderWidth = Math.max(1, r * 1.6);
    }
    return set;
}

function tsneSets(colorOf, alpha, r, skipPoly = [], swap = {}) {
    const sets = [];
    clusterPts.forEach((flat, i) => {
        sets.push(clusterDots(i, swap[i] || flat, colorOf(i), r));
        if (clusterPolys[i] && !skipPoly.includes(i)) sets.push(shapeSet(clusterPolys[i], colorOf(i) + alpha, 5));
    });
    return sets;
}

// ---------- Panel E ----------
const eLabelPlugin = {
    id: 'eLabels',
    afterDatasetsDraw(chart) {
        const { ctx, scales } = chart;
        ctx.save();
        ctx.font = `8.5px ${FONT}`;
        ctx.fillStyle = '#222';
        ctx.textAlign = 'center';
        ctx.textBaseline = 'middle';
        clusterLabelX.forEach((x, i) => ctx.fillText(String(i), scales.x.getPixelForValue(x), scales.y.getPixelForValue(clusterLabelY[i])));
        ctx.restore();
    }
};
plot(682.9, 470.7, 457.8, 322, 32, 24, {
    type: 'scatter',
    data: { datasets: tsneSets(i => clusterColors[i], 'c0', 1.35, [10, 11]) },
    options: { scales: { x: tx(9.5), y: ty(9.5) } },
    plugins: [eLabelPlugin]
});
text('tSNE_1', 910.7, 816, 11, { align: 'center' });
text('tSNE_2', 650, 632, 11, { rotate: -90, align: 'center' });
clusterColors.forEach((c, i) => {
    dot(1159.6, 515.7 + i * 13.24, 3, c);
    text(String(i), 1172, 515.7 + i * 13.24, 10, { color: '#333' });
});

// ---------- Panel F ----------
const fKeys = [[fP3, '#1f4e7e'], [fP2, '#fdd90d'], [fP1, '#f56447'], [fN1, '#1f8c47']];
plot(1267, 461, 253.3, 363.6, 42, 0, {
    type: 'bar',
    data: {
        labels: fClusters,
        datasets: fKeys.map(([data, color]) => ({ data, backgroundColor: color, borderWidth: 0, barPercentage: 0.9, categoryPercentage: 1 }))
    },
    options: {
        indexAxis: 'y',
        scales: {
            x: { display: false, stacked: true, min: 0, max: 100 },
            y: { type: 'category', stacked: true, grid: { display: false, drawTicks: false }, border: { display: false }, ticks: { color: '#444', font: { family: FONT, size: 10 }, padding: 17, autoSkip: false } }
        }
    }
}, 0, 2);
text('orig.ident', 1321, 441, 7.5, { color: '#333' });
[['N1', '#1f8c47', 1358], ['P1', '#f56447', 1386], ['P2', '#fdd90d', 1415], ['P3', '#1f4e7e', 1443]].forEach(([n, c, x]) => {
    box(x, 435, 11.5, 11.5, `background:${c}`);
    text(n, x + 16, 441, 5.5, { color: '#444' });
});

// ---------- Panel G ----------
const cellColorOf = i => cellColors[clusterCellType[i]];
const gNormalSets = gNormalPts.map((flat, i) => scatterSet(flat, cellColors[i], 0.9, 1));
gNormalSets.push(shapeSet(gNormalNkPoly, cellColors[0] + '80'), shapeSet(gNormalTPoly, cellColors[1] + '70'), shapeSet(gNormalBPoly, cellColors[3] + '70'), shapeSet(gNormalB2Poly, cellColors[3] + 'a0'));
plot(92, 886.7, 289, 306, 32, 20, {
    type: 'scatter',
    data: { datasets: gNormalSets },
    options: { scales: { x: tx(9.5), y: ty(9.5) } }
}, 8, 2);
plot(386, 886.7, 288.5, 306, 1, 20, {
    type: 'scatter',
    data: { datasets: tsneSets(cellColorOf, 'a8', 1, [8, 10, 11], { 15: gTumorC15 }) },
    options: { scales: { x: tx(9.5), y: axis(-52.6, 57.6, 1, { grid: { display: false }, border: { display: false }, ticks: { display: false } }) } }
}, 8, 2);
text('Normal', 236, 879, 10, { weight: 'bold', align: 'center' });
text('Tumor', 530, 879, 10, { weight: 'bold', align: 'center' });
text('tSNE_2', 60, 1040, 11, { rotate: -90, align: 'center' });
text('tSNE_1', 383, 1216, 11, { align: 'center' });
cellTypes.forEach((n, i) => {
    dot(693, 963.7 + i * 13.25, 3, cellColors[i]);
    text(n, 705.6, 963.7 + i * 13.25, 10, { color: '#222' });
});

// ---------- Panel H ----------
function hMix(level) {
    const a = [196, 196, 196], b = [62, 76, 168];
    const c = a.map((v, k) => Math.round(v + (b[k] - v) * level));
    return '#' + c.map(v => v.toString(16).padStart(2, '0')).join('');
}
hGenes.forEach((gene, g) => {
    const col = g % 4, row = Math.floor(g / 4);
    const left = 111.7 + col * 153.1, top = 1263.3 + row * 121.3;
    const lv = hLevels[g];
    const sets = [];
    clusterPts.forEach((flat, i) => {
        sets.push(clusterDots(i, flat, hMix(Math.min(1, (lv[i] || 0) * 1.15)), 0.8));
        if (clusterPolys[i]) sets.push(shapeSet(clusterPolys[i], hMix((lv[i] || 0) * 0.75), 5));
    });
    plot(left, top, 66.7, 60.4, 24, 18, {
        type: 'scatter',
        data: { datasets: sets },
        options: { scales: { x: tx(9.5), y: ty(9.5) } }
    }, 6, 2);
    text(gene, left + 32.7, 1249 + row * 121.3, 12, { weight: 'bold', align: 'center', color: '#111' });
    text('tSNE_1', left + 32.7, 1346.7 + row * 121.3, 10.5, { align: 'center' });
    text('tSNE_2', left - 32.7, 1293 + row * 121.3, 10.5, { rotate: -90, align: 'center' });
    const barX = left + 78, barTop = top, barH = 66;
    box(barX, barTop, 13, barH, 'background:linear-gradient(#3f4fa8,#8a78bc 55%,#c4c4c4)');
    for (let v = 0; v <= hMax[g]; v += hStep[g]) {
        text(String(v), barX + 19, barTop + barH - v / hMax[g] * barH, 9.5, { color: '#333' });
    }
});

// ---------- Panel I ----------
const heatDatasets = [];
const heatParsed = heatRows.map(r => r.split(' '));
heatCells.forEach((cells, cl) => {
    const n = heatColumns[cl];
    for (let j = 0; j < n; j++) {
        heatDatasets.push({
            data: heatGenes.map(() => cells / n),
            backgroundColor: heatParsed.map(blocks => {
                const b = blocks[cl] || '1';
                return heatLevels[b.charAt(j) || b.charAt(b.length - 1)];
            }),
            borderWidth: 0, barPercentage: 1, categoryPercentage: 1
        });
    }
    if (cl < heatCells.length - 1) {
        heatDatasets.push({ data: heatGenes.map(() => heatGap), backgroundColor: '#ffffff', borderWidth: 0, barPercentage: 1, categoryPercentage: 1, inflateAmount: 0 });
    }
});
const heatTotal = heatCells.reduce((a, b) => a + b, 0) + heatGap * (heatCells.length - 1);
plot(869.2, 924, 593.4, 667, 62, 0, {
    type: 'bar',
    data: { labels: heatGenes, datasets: heatDatasets },
    options: {
        indexAxis: 'y',
        scales: {
            x: { display: false, stacked: true, min: 0, max: heatTotal },
            y: { type: 'category', stacked: true, grid: { display: false, drawTicks: false }, border: { display: false }, ticks: { color: '#444', font: { family: FONT, size: 8 }, padding: 4, autoSkip: false } }
        }
    }
}, 0, 2);
// colour strip above the heatmap
const stripSets = [];
heatCells.forEach((cells, cl) => {
    stripSets.push({ data: [cells], backgroundColor: cellColors[cl], borderWidth: 0, barPercentage: 1, categoryPercentage: 1 });
    if (cl < heatCells.length - 1) stripSets.push({ data: [heatGap], backgroundColor: '#ffffff', borderWidth: 0, barPercentage: 1, categoryPercentage: 1, inflateAmount: 0 });
});
plot(869.2, 900, 593.4, 13.3, 0, 0, {
    type: 'bar',
    data: { labels: ['Identity'], datasets: stripSets },
    options: {
        indexAxis: 'y',
        scales: { x: { display: false, stacked: true, min: 0, max: heatTotal }, y: { display: false, stacked: true } }
    }
}, 0, 2);
text('Top 5 Marker Genes', 1166, 882, 10.5, { align: 'center' });
text('Identity', 1478, 1096, 10, { color: '#222' });
const iLegendY = [1112, 1127, 1142, 1157, 1172, 1187, 1202, 1216, 1231, 1246, 1261, 1276, 1291];
cellTypes.forEach((n, i) => {
    dot(1485.3, iLegendY[i], 2, cellColors[i]);
    text(n, 1497.6, iLegendY[i], 7.5, { color: '#333' });
});
text('Expression', 1478, 1322, 10, { color: '#222' });
box(1478, 1331, 15, 75, 'background:linear-gradient(#f2e816 0%,#8a8a20 24%,#0c0c0c 44%,#3a1a3a 60%,#7d2579 76%,#b04aa5 100%)');
[['2', 1342], ['1', 1363], ['0', 1384.7]].forEach(([l, y]) => text(l, 1497.6, y, 7, { color: '#333' }));

// panel letters
panelLetter('A', 1, 4);
panelLetter('B', 493, 4);
panelLetter('C', 1087, 4);
panelLetter('D', 2, 427);
panelLetter('E', 668, 427);
panelLetter('F', 1225, 427);
panelLetter('G', 38, 870);
panelLetter('H', 38, 1234);
panelLetter('I', 817, 868);
</script>
</body>
</html>
